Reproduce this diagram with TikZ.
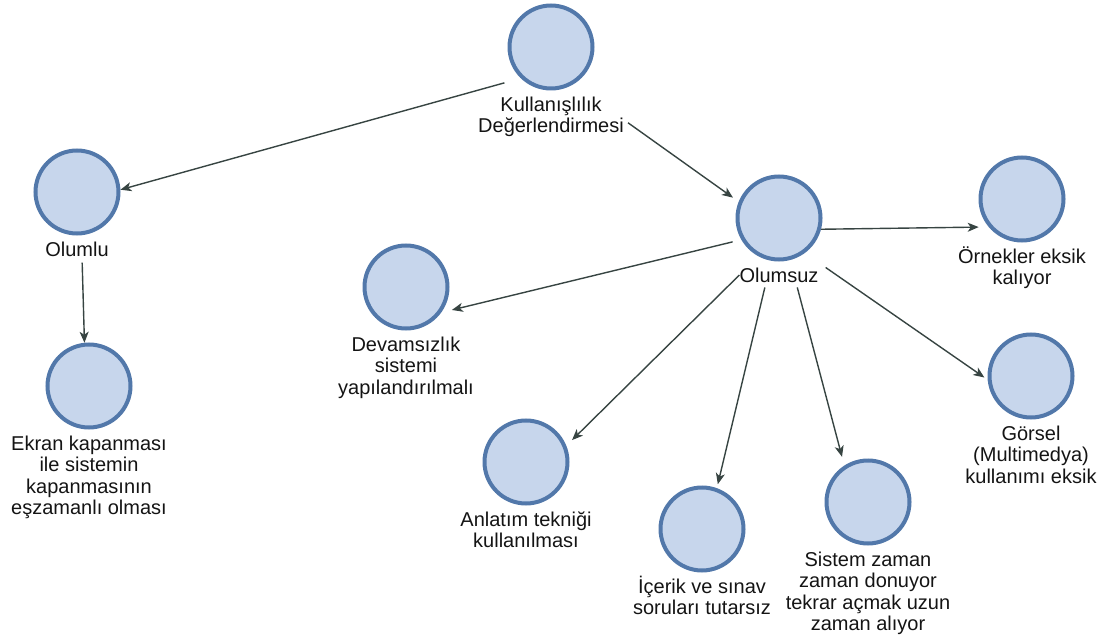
\documentclass[tikz,border=0pt]{standalone}
\usepackage{fontspec}
\setmainfont{Liberation Sans}
\usetikzlibrary{positioning,arrows.meta}
\definecolor{circfill}{RGB}{199,214,236}
\definecolor{circline}{RGB}{82,120,170}
\definecolor{edgecol}{RGB}{55,68,66}
\definecolor{txtcol}{RGB}{20,20,20}

\begin{document}
\begin{tikzpicture}[x=1pt,y=-1pt,
    circ/.style={circle,fill=circfill,draw=circline,line width=4pt,minimum size=83pt,inner sep=0pt},
    lbl/.style={align=center,inner sep=0pt,text=txtcol,font=\fontsize{20}{21.5}\selectfont},
    arr/.style={-{Stealth[length=11pt,width=9pt,inset=3pt]},draw=edgecol,line width=1.4pt}]
    \useasboundingbox(0,0)rectangle(1108,644);
    % circles
    \node[circ](kul)at(551,47){};
    \node[circ](olu)at(77,192){};
    \node[circ](ekr)at(89,386){};
    \node[circ](olsz)at(779,218){};
    \node[circ](orn)at(1022,199){};
    \node[circ](gor)at(1031,376){};
    \node[circ](dev)at(406,287){};
    \node[circ](anl)at(526,462){};
    \node[circ](ice)at(702,529){};
    \node[circ](sis)at(868,502){};
    % labels
    \node[lbl,below=6pt of kul](kullbl){Kullanışlılık\\Değerlendirmesi};
    \node[lbl,below=6pt of olu](olulbl){Olumlu};
    \node[lbl,below=6pt of ekr](ekrlbl){Ekran kapanması\\ile sistemin\\kapanmasının\\eşzamanlı olması};
    \node[lbl,below=6pt of olsz](olszlbl){Olumsuz};
    \node[lbl,below=6pt of orn](ornlbl){\smash{Ö}rnekler eksik\\kalıyor};
    \node[lbl,below=6pt of gor](gorlbl){Görsel\\(Multimedya)\\kullanımı eksik};
    \node[lbl,below=6pt of dev](devlbl){Devamsızlık\\sistemi\\yapılandırılmalı};
    \node[lbl,below=6pt of anl](anllbl){Anlatım tekniği\\kullanılması};
    \node[lbl,below=6pt of ice](icelbl){\smash{İ}çerik ve sınav\\soruları tutarsız};
    \node[lbl,below=6pt of sis](sislbl){Sistem zaman\\zaman donuyor\\tekrar açmak uzun\\zaman alıyor};
    % connectors
    \draw[arr,shorten <=17pt](kul.226)--(olu.3);
    \draw[arr,shorten >=7pt]([xshift=4pt,yshift=-6pt]kullbl.east)--(olsz.158);
    \draw[arr,shorten <=6pt]([xshift=5pt]olulbl.south)--(ekr.96);
    \draw[arr,shorten >=10pt](olsz.345)--(orn.220);
    \draw[arr,shorten <=9pt,shorten >=11pt](olsz.210)--(dev.324);
    \draw[arr,shorten >=8pt](olszlbl.west)--(anl.22);
    \draw[arr,shorten <=5pt,shorten >=4pt]([xshift=-13pt]olszlbl.south)--(ice.70);
    \draw[arr,shorten <=5pt,shorten >=9pt]([xshift=17pt]olszlbl.south)--(sis.123);
    \draw[arr,shorten >=4pt]([xshift=7pt]olszlbl.north east)--(gor.185);
\end{tikzpicture}
\end{document}
